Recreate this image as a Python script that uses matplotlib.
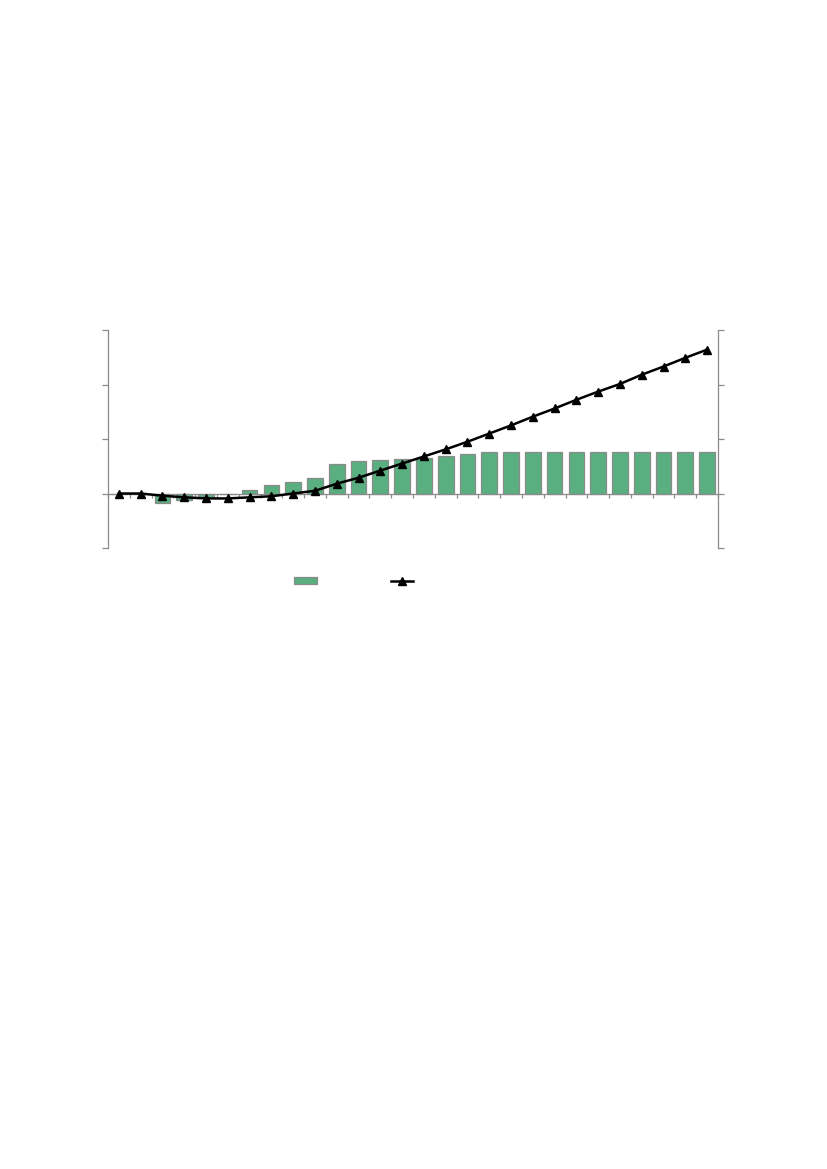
import matplotlib.pyplot as plt
import numpy as np

# values (no labels shown in the original)
periods = np.arange(1, 29)
bar_values = [0.0, 0.0, -0.18, -0.12, -0.07, 0.0, 0.06, 0.15, 0.22, 0.29,
              0.55, 0.59, 0.61, 0.64, 0.66, 0.68, 0.72, 0.76, 0.76, 0.76,
              0.76, 0.76, 0.76, 0.76, 0.76, 0.76, 0.76, 0.76]
line_values = [0.0, 0.0, -0.04, -0.07, -0.09, -0.09, -0.07, -0.05, 0.0, 0.05,
               0.18, 0.29, 0.42, 0.55, 0.68, 0.81, 0.95, 1.10, 1.25, 1.41,
               1.56, 1.72, 1.87, 2.01, 2.18, 2.33, 2.49, 2.64]
y_ticks = [-1, 0, 1, 2, 3]

fig = plt.figure(figsize=(8.27, 11.69), dpi=100)
ax = fig.add_axes([0.1306, 0.5312, 0.7376, 0.1865])

bars = ax.bar(periods, bar_values, width=0.72, color='#5aaf80',
              edgecolor='#8a8a8a', linewidth=0.9, zorder=2)
line, = ax.plot(periods, line_values, color='black', linewidth=1.8,
                marker='^', markersize=5.5, zorder=3)

ax.set_xlim(0.5, 28.5)
ax.set_ylim(-1, 3)
ax.set_yticks(y_ticks)
ax.set_xticks(np.arange(0.5, 29.5, 1))

ax.spines['top'].set_visible(False)
ax.spines['bottom'].set_position(('data', 0))
for s in ['left', 'right', 'bottom']:
    ax.spines[s].set_color('#8a8a8a')
    ax.spines[s].set_linewidth(0.9)

ax.tick_params(axis='y', left=True, right=True, labelleft=False,
               labelright=False, direction='out', length=4,
               color='#8a8a8a', width=0.9)
ax.tick_params(axis='x', bottom=True, labelbottom=False, direction='out',
               length=3, color='#8a8a8a', width=0.9)

leg = fig.legend([bars, line], [' ', ' '], loc='center',
                 bbox_to_anchor=(361.5 / 827, 1 - 581 / 1169), ncol=2,
                 frameon=False, handlelength=1.6, handleheight=0.4,
                 columnspacing=4.25, fontsize=10)

plt.savefig('out.png', dpi=100)
